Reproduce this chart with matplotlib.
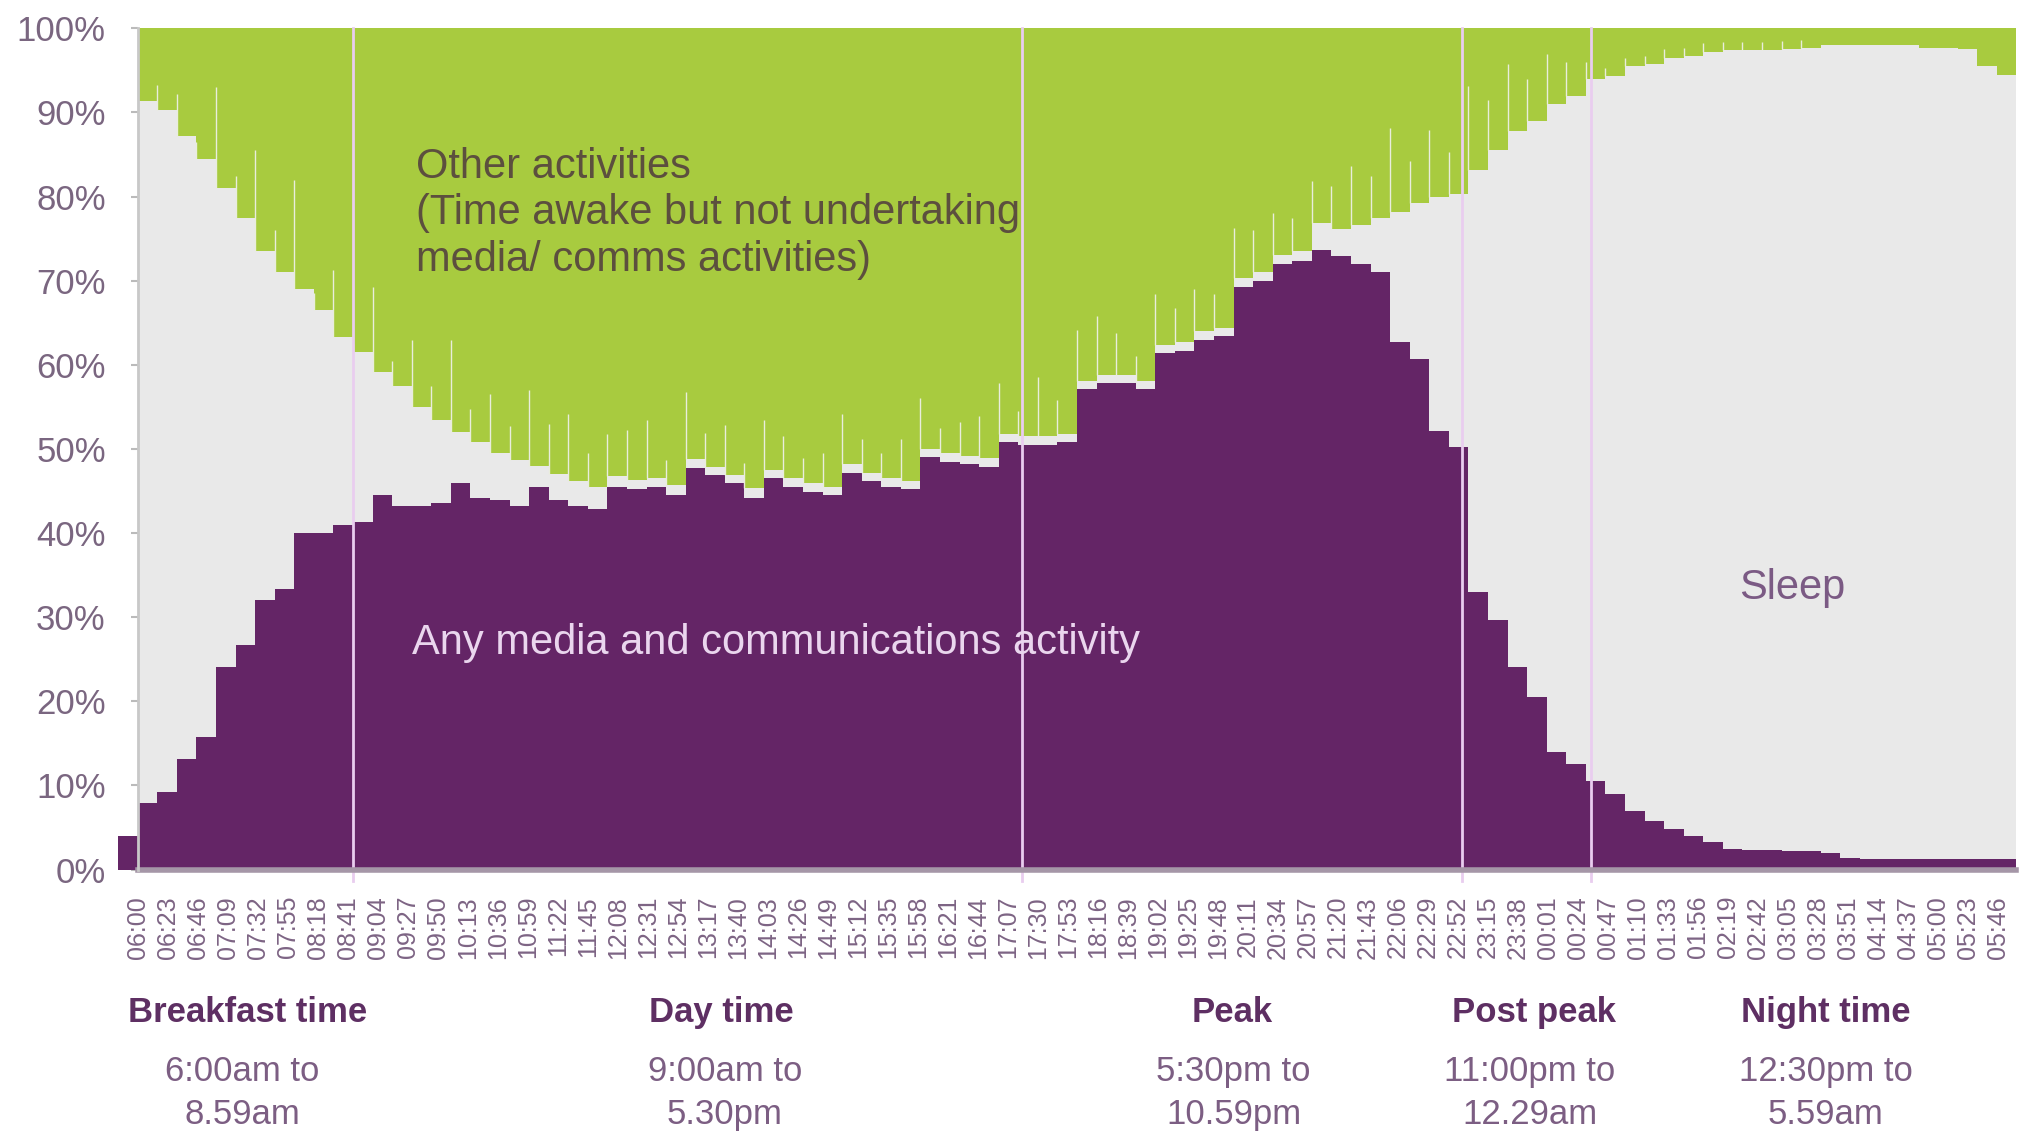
import numpy as np
import matplotlib
matplotlib.use("Agg")
import matplotlib.pyplot as plt

plt.rcParams['font.family'] = ['Liberation Sans', 'DejaVu Sans']

# ---------------- data (15-minute slots, % of adults) ----------------
slot_len = 15          # minutes per slot
first_slot = -15       # first slot starts 15 minutes before the 06:00 axis origin

media = [4.0, 7.9, 9.2, 13.2, 15.8, 24.1, 26.7, 32.0, 33.3, 40.0, 40.0, 41.0,
         41.3, 44.5, 43.2, 43.2, 43.6, 46.0, 44.2, 43.9, 43.2, 45.5, 43.9, 43.2,
         42.9, 45.5, 45.2, 45.5, 44.5, 47.7, 46.9, 45.9, 44.2, 46.5, 45.5, 44.9,
         44.5, 47.2, 46.2, 45.5, 45.2, 49.0, 48.5, 48.2, 47.9, 50.8, 50.5, 50.5,
         50.8, 57.1, 57.8, 57.8, 57.1, 61.4, 61.7, 63.0, 63.4, 69.3, 70.0, 72.0,
         72.3, 73.6, 72.9, 72.0, 71.0, 62.7, 60.7, 52.1, 50.2, 33.0, 29.7, 24.1,
         20.5, 14.0, 12.5, 10.5, 9.0, 7.0, 5.8, 4.8, 4.0, 3.3, 2.4, 2.3,
         2.3, 2.2, 2.2, 2.0, 1.4, 1.3, 1.3, 1.3, 1.3, 1.3, 1.3, 1.3, 1.3]

sleep = [87.5, 83.4, 81.1, 74.0, 68.7, 56.9, 50.8, 41.5, 37.7, 29.0, 26.5, 22.3,
         20.2, 14.7, 14.3, 11.8, 9.9, 6.0, 6.6, 5.6, 5.5, 2.5, 3.1, 3.0,
         2.6, 1.3, 1.1, 1.0, 1.2, 1.1, 1.0, 1.0, 1.1, 1.0, 1.0, 1.0,
         1.0, 1.0, 1.0, 1.0, 1.0, 1.0, 1.0, 1.0, 1.0, 1.0, 1.0, 1.0,
         1.0, 1.0, 1.0, 1.0, 1.0, 1.0, 1.0, 1.0, 1.0, 1.0, 1.0, 1.0,
         1.2, 3.3, 3.3, 4.6, 6.5, 15.5, 18.5, 27.8, 30.1, 50.2, 55.8, 63.7,
         68.5, 77.0, 79.5, 83.5, 85.3, 88.5, 89.9, 91.7, 92.7, 93.9, 95.0, 95.1,
         95.1, 95.3, 95.4, 96.0, 96.6, 96.7, 96.7, 96.7, 96.4, 96.4, 96.2, 94.2, 93.2]

# brief one-minute rises in the sleep share at the start of each slot
sleep_spike = [0, 2, 3, 5, 2, 12, 5, 12, 5, 13, 2, 8,
               1, 10, 3, 8, 4, 11, 4, 7, 4, 9, 6, 8,
               4, 5, 6, 7, 3, 8, 4, 6, 3, 6, 5, 3,
               4, 6, 4, 3, 5, 6, 3, 4, 5, 6, 3, 7,
               4, 6, 7, 5, 3, 6, 4, 5, 4, 6, 5, 5,
               4, 5, 5, 7, 5, 10, 5, 8, 5, 10, 6, 8,
               5, 6, 4, 2, 1, 1, 1, 1, 1, 1, 1, 1,
               1, 1, 1, 0, 0, 0, 0, 0, 0, 0, 0, 0, 0]

tick_labels = ["06:00", "06:23", "06:46", "07:09", "07:32", "07:55", "08:18", "08:41",
               "09:04", "09:27", "09:50", "10:13", "10:36", "10:59", "11:22", "11:45",
               "12:08", "12:31", "12:54", "13:17", "13:40", "14:03", "14:26", "14:49",
               "15:12", "15:35", "15:58", "16:21", "16:44", "17:07", "17:30", "17:53",
               "18:16", "18:39", "19:02", "19:25", "19:48", "20:11", "20:34", "20:57",
               "21:20", "21:43", "22:06", "22:29", "22:52", "23:15", "23:38", "00:01",
               "00:24", "00:47", "01:10", "01:33", "01:56", "02:19", "02:42", "03:05",
               "03:28", "03:51", "04:14", "04:37", "05:00", "05:23", "05:46"]
tick_step = 23  # minutes between tick labels

periods = ["Breakfast time", "Day time", "Peak", "Post peak", "Night time"]
period_from = ["6:00am to", "9:00am to", "5:30pm to", "11:00pm to", "12:30pm to"]
period_to = ["8.59am", "5.30pm", "10.59pm", "12.29am", "5.59am"]
divider_minutes = [165, 678, 1015, 1114]

# ---------------- styling ----------------
PURPLE = "#642566"
GREY = "#e9e9e9"
GREEN = "#a8cb3f"
TICKCOL = "#7a6680"

media = np.array(media)
sleep = np.array(sleep)
other = 100.0 - media - sleep
top_sleep = media + sleep
edges = first_slot + slot_len * np.arange(len(media) + 1)

fig = plt.figure(figsize=(20.19, 11.32), dpi=100)
ax = fig.add_axes([0.0682, 0.2318, 0.9305, 0.7432])

ax.stairs(media, edges, baseline=0, fill=True, color=PURPLE, lw=0, clip_on=False, zorder=2)
ax.stairs(top_sleep, edges, baseline=media, fill=True, color=GREY, lw=0, zorder=2)
ax.stairs(top_sleep + other, edges, baseline=top_sleep, fill=True, color=GREEN, lw=0, zorder=2)

spk = np.array(sleep_spike)
mask = spk > 0
ax.vlines(edges[:-1][mask], top_sleep[mask], top_sleep[mask] + spk[mask],
          color="#e9eddc", lw=1.0, zorder=3)

for m in divider_minutes:
    ax.axvline(m, ymin=-0.014, ymax=1, color="#e9cdef", lw=2.0, zorder=4, clip_on=False)

ax.axhline(0, color="#a596a7", lw=4, zorder=5, clip_on=False)

ax.set_xlim(0, 1440)
ax.set_ylim(0, 100)

ax.set_yticks(np.arange(0, 101, 10))
ax.set_yticklabels([f"{v}%" for v in range(0, 101, 10)])
ax.set_xticks(np.arange(len(tick_labels)) * tick_step)
ax.set_xticklabels(tick_labels, rotation=90)

ax.tick_params(axis='y', length=5, width=1.5, color="#bbbbbb", pad=18,
               labelsize=25, labelcolor=TICKCOL)
ax.tick_params(axis='x', length=0, pad=19, labelsize=18, labelcolor="#7d6484")

for s in ["top", "right", "bottom"]:
    ax.spines[s].set_visible(False)
ax.spines["left"].set_color("#c8c8c8")
ax.spines["left"].set_linewidth(2)
ax.spines["left"].set_zorder(6)

# in-chart labels
fig.text(0.206, 0.8114, "Other activities\n(Time awake but not undertaking\nmedia/ comms activities)",
         ha="left", va="center", fontsize=30, color="#5c4f3e", linespacing=1.2)
fig.text(0.204, 0.432, "Any media and communications activity",
         ha="left", va="center", fontsize=30, color="#ead6ee")
fig.text(0.8878, 0.4807, "Sleep", ha="center", va="center", fontsize=30, color="#7b5a84")

# period captions
head_x = [0.1224, 0.3571, 0.6103, 0.7596, 0.9043]
time_x = [0.1199, 0.3590, 0.6110, 0.7577, 0.9043]
for name, a, b, hx, tx in zip(periods, period_from, period_to, head_x, time_x):
    fig.text(hx, 0.1057, name, ha="center", va="center", fontsize=25,
             fontweight="bold", color="#5e2f63")
    fig.text(tx, 0.0534, a, ha="center", va="center", fontsize=25, color="#7c5e83")
    fig.text(tx, 0.0159, b, ha="center", va="center", fontsize=25, color="#7c5e83")

fig.savefig("out.png", dpi=100, facecolor="white")
